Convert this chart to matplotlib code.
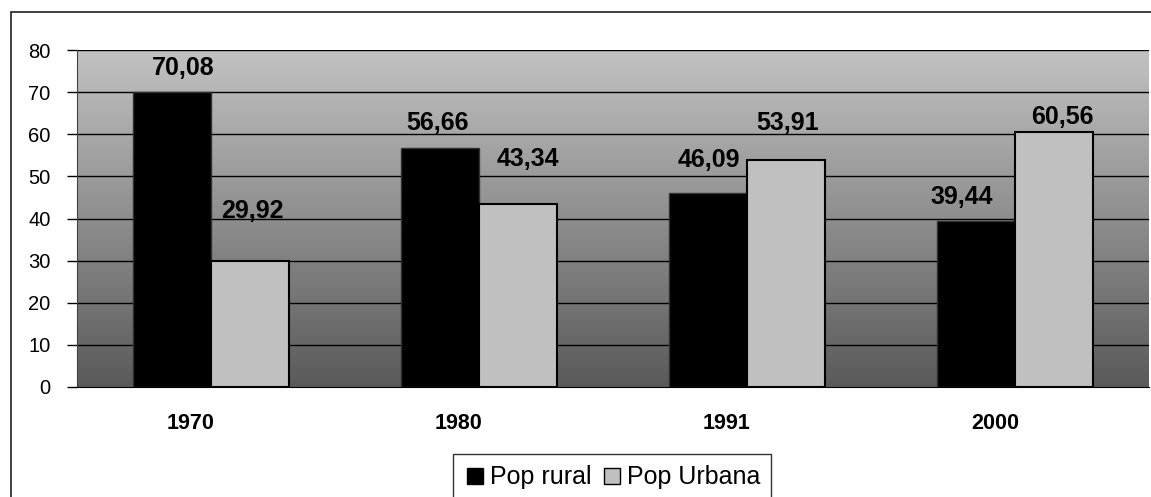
import numpy as np
import matplotlib.pyplot as plt
from matplotlib.patches import Rectangle
from matplotlib.lines import Line2D
from matplotlib.colors import LinearSegmentedColormap
import matplotlib.transforms as mtransforms

plt.rcParams['font.family'] = ['Liberation Sans', 'DejaVu Sans']

# data
anos = ['1970', '1980', '1991', '2000']
pop_rural = [70.08, 56.66, 46.09, 39.44]
pop_urbana = [29.92, 43.34, 53.91, 60.56]

# label nudges (pixels) to mimic where the original labels sit
rural_off = [(11, 24), (-3, 25), (1, 33), (-14, 24)]
urbana_off = [(3, 50), (10, 45), (2, 37), (9, 15)]

W, H = 1151, 497
fig = plt.figure(figsize=(W / 100, H / 100), dpi=100)
fig.patch.set_facecolor('white')

# chart area border (runs off the right and bottom edges)
fig.patches.append(Rectangle((11 / W, -0.1), 1.2, 1.1 - 12 / H, transform=fig.transFigure,
                             fill=False, edgecolor='#202020', lw=1.2))

ax = fig.add_axes([77 / W, 1 - 387 / H, (1149 - 77) / W, (387 - 50) / H])

# grey gradient background
grey = LinearSegmentedColormap.from_list('g', ['#5a5a5a', '#c2c2c2'])
grad = np.linspace(0, 1, 256).reshape(-1, 1)
ax.imshow(grad, extent=[-0.5, 3.5, 0, 80], aspect='auto', cmap=grey,
          vmin=0, vmax=1, origin='lower', zorder=0, interpolation='bicubic')

x = np.arange(len(anos))
w = 0.29
ax.set_xlim(-0.5, 3.5)
ax.set_ylim(0, 80)
ax.set_yticks(range(0, 81, 10))
for yv in range(10, 81, 10):
    ax.axhline(yv, color='black', lw=1, zorder=1)

ax.bar(x - w / 2, pop_rural, w, color='black', edgecolor='#303030', lw=1, zorder=2)
ax.bar(x + w / 2, pop_urbana, w, color='#c0c0c0', edgecolor='black', lw=1.5, zorder=2)

def fmt(v):
    return f'{v:.2f}'.replace('.', ',')

for i in range(len(anos)):
    ax.annotate(fmt(pop_rural[i]), (x[i] - w / 2, pop_rural[i]), xytext=rural_off[i],
                textcoords='offset pixels', ha='center', va='center',
                fontsize=18, fontweight='bold', zorder=3)
    ax.annotate(fmt(pop_urbana[i]), (x[i] + w / 2, pop_urbana[i]), xytext=urbana_off[i],
                textcoords='offset pixels', ha='center', va='center',
                fontsize=18, fontweight='bold', zorder=3)

ax.set_xticks(x)
ax.set_xticklabels(anos, fontsize=15.5, fontweight='bold')
ax.tick_params(axis='x', length=0, pad=19)
shift = mtransforms.ScaledTranslation(-20 / 100, 0, fig.dpi_scale_trans)
for lab in ax.get_xticklabels():
    lab.set_transform(lab.get_transform() + shift)
ax.tick_params(axis='y', length=7, width=1, pad=12, labelsize=14.5, direction='out')

for s in ['top', 'right']:
    ax.spines[s].set_visible(False)
ax.spines['left'].set_color('#404040')
ax.spines['bottom'].set_color('black')

handles = [Line2D([], [], marker='s', ls='', markersize=12, markerfacecolor='black',
                  markeredgecolor='black'),
           Line2D([], [], marker='s', ls='', markersize=12, markerfacecolor='#c0c0c0',
                  markeredgecolor='black')]
leg = fig.legend(handles, ['Pop rural', 'Pop Urbana'], loc='upper center',
                 bbox_to_anchor=(612 / W, 1 - 454 / H), ncol=2, fontsize=18,
                 frameon=True, fancybox=False, edgecolor='black', handletextpad=0.15,
                 columnspacing=0.35, handlelength=0.9, borderpad=0.45, borderaxespad=0)
leg.get_frame().set_linewidth(1)

fig.savefig('out.png', dpi=100)
